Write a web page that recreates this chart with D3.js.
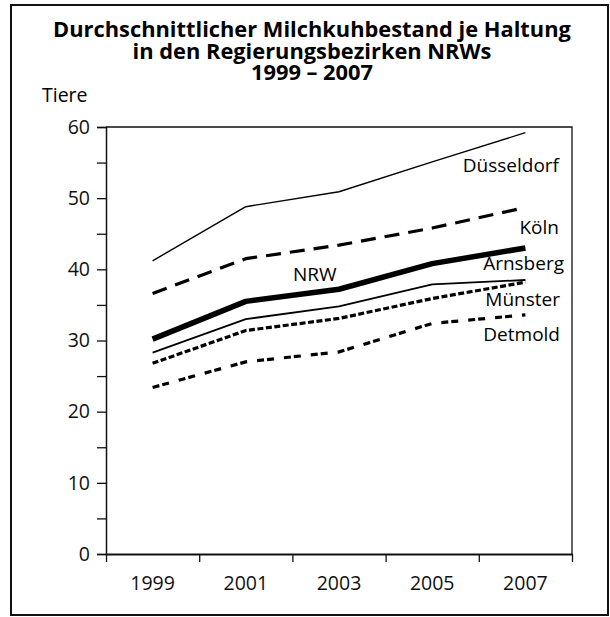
<!DOCTYPE html>
<html lang="de">
<head>
<meta charset="utf-8">
<title>Milchkuhbestand je Haltung</title>
<script src="https://d3js.org/d3.v7.min.js"></script>
<style>
  body { margin: 0; background: #fff; }
  svg { display: block; font-family: "Open Sans", "DejaVu Sans", sans-serif; }
  .axis path, .axis line { stroke: #111; }
  .axis text { font-size: 19.5px; fill: #111; font-family: "Open Sans", sans-serif; }
</style>
</head>
<body>
<div id="chart"></div>
<script>
// data
var years = ["1999", "2001", "2003", "2005", "2007"];
var duesseldorf = [41.2, 48.8, 50.9, 55.1, 59.2];
var koeln       = [36.6, 41.5, 43.4, 45.8, 48.7];
var nrw         = [30.2, 35.5, 37.2, 40.8, 43.0];
var arnsberg    = [28.3, 33.0, 34.8, 37.9, 38.5];
var muenster    = [26.8, 31.4, 33.1, 35.9, 38.2];
var detmold     = [23.4, 27.0, 28.4, 32.4, 33.6];
var yTicks = [0, 10, 20, 30, 40, 50, 60];
var titleLines = ["Durchschnittlicher Milchkuhbestand je Haltung",
                  "in den Regierungsbezirken NRWs",
                  "1999 \u2013 2007"];

var W = 610, H = 617;
var plot = {left: 106, right: 572, top: 127, bottom: 554};

var svg = d3.select("#chart").append("svg")
    .attr("width", W)
    .attr("height", H);

// outer frame
svg.append("rect")
    .attr("x", 11).attr("y", 5)
    .attr("width", 597).attr("height", 610)
    .attr("fill", "none")
    .attr("stroke", "#111")
    .attr("stroke-width", 2);

// title, scaled so the first line spans the same width as the original
var title = svg.append("g").attr("class", "title");
var tl = title.selectAll("text")
  .data(titleLines)
  .enter().append("text")
    .attr("x", 312)
    .attr("y", function(d, i) { return 37 + i * 21.5; })
    .attr("text-anchor", "middle")
    .style("font-weight", "bold")
    .style("font-size", "20px")
    .text(function(d) { return d; });
var w0 = tl.node().getComputedTextLength();
tl.style("font-size", (20 * 518 / w0) + "px");

// scales
var x = d3.scaleBand()
    .domain(years)
    .range([plot.left, plot.right]);

var y = d3.scaleLinear()
    .domain([0, 60])
    .range([plot.bottom, plot.top]);

// box round the plot (top and right)
svg.append("path")
    .attr("d", "M" + plot.left + "," + plot.top + "H" + plot.right + "V" + plot.bottom)
    .attr("fill", "none")
    .attr("stroke", "#111")
    .attr("stroke-width", 1.3);

// Y axis, minor ticks every 5
svg.append("g")
    .attr("class", "axis")
    .attr("transform", "translate(" + plot.left + ",0)")
    .call(d3.axisLeft(y)
        .tickValues(d3.range(0, 61, 5))
        .tickSize(9)
        .tickPadding(7)
        .tickFormat(function(d) { return yTicks.indexOf(d) >= 0 ? d : ""; }))
    .call(function(g) { g.select(".domain").attr("stroke-width", 1.5); })
    .call(function(g) { g.selectAll(".tick line").attr("stroke-width", 1.3); });

// X axis labels in the middle of each band
svg.append("g")
    .attr("class", "axis")
    .attr("transform", "translate(0," + plot.bottom + ")")
    .call(d3.axisBottom(x).tickSize(0).tickPadding(22))
    .call(function(g) { g.select(".domain").remove(); });

// X axis line with ticks on the band edges
var edges = d3.scaleLinear().domain([0, years.length]).range([plot.left, plot.right]);
svg.append("g")
    .attr("class", "axis")
    .attr("transform", "translate(0," + plot.bottom + ")")
    .call(d3.axisBottom(edges)
        .ticks(years.length)
        .tickSize(8)
        .tickSizeOuter(0)
        .tickFormat(""))
    .call(function(g) { g.select(".domain").attr("stroke-width", 2.2); })
    .call(function(g) { g.selectAll(".tick line").attr("stroke-width", 1.3); });

// y axis title
svg.append("text")
    .attr("x", 42)
    .attr("y", 102)
    .style("font-size", "19.5px")
    .text("Tiere");

// series
var series = [
  {name: "D\u00fcsseldorf", values: duesseldorf, width: 1.4, dash: null,       lx: 559, ly: 172},
  {name: "K\u00f6ln",       values: koeln,       width: 3.2, dash: "15,9",     lx: 559, ly: 234},
  {name: "Arnsberg",        values: arnsberg,    width: 1.8, dash: null,       lx: 564, ly: 270},
  {name: "M\u00fcnster",    values: muenster,    width: 3.2, dash: "6,2.5",    lx: 560, ly: 306},
  {name: "Detmold",         values: detmold,     width: 3.2, dash: "7,3,7,10", lx: 560, ly: 341},
  {name: "NRW",             values: nrw,         width: 5.5, dash: null,       lx: 293, ly: 281}
];

var line = d3.line()
    .x(function(d, i) { return x(years[i]) + x.bandwidth() / 2; })
    .y(function(d) { return y(d); });

svg.selectAll("path.series")
  .data(series)
  .enter().append("path")
    .attr("class", "series")
    .attr("d", function(d) { return line(d.values); })
    .attr("fill", "none")
    .attr("stroke", "#000")
    .attr("stroke-width", function(d) { return d.width; })
    .attr("stroke-dasharray", function(d) { return d.dash; })
    .attr("stroke-linejoin", "round");

svg.selectAll("text.label")
  .data(series)
  .enter().append("text")
    .attr("class", "label")
    .attr("x", function(d) { return d.lx; })
    .attr("y", function(d) { return d.ly; })
    .attr("text-anchor", function(d) { return d.name === "NRW" ? "start" : "end"; })
    .style("font-size", "19px")
    .text(function(d) { return d.name; });
</script>
</body>
</html>
